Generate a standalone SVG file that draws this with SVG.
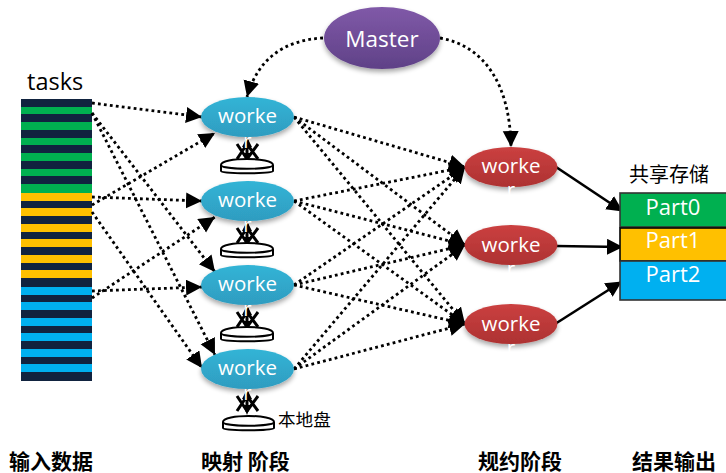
<svg xmlns="http://www.w3.org/2000/svg" width="726" height="473" viewBox="0 0 726 473">
<defs>
<linearGradient id="gb" x1="0" y1="0" x2="0" y2="1"><stop offset="0" stop-color="#31b4d6"/><stop offset="1" stop-color="#2f9cc0"/></linearGradient>
<linearGradient id="gr" x1="0" y1="0" x2="0" y2="1"><stop offset="0" stop-color="#cb4040"/><stop offset="1" stop-color="#ad3232"/></linearGradient>
<linearGradient id="gp" x1="0" y1="0" x2="0" y2="1"><stop offset="0" stop-color="#8059a8"/><stop offset="1" stop-color="#5f4187"/></linearGradient>
<filter id="sh" x="-20%" y="-20%" width="140%" height="160%"><feGaussianBlur in="SourceAlpha" stdDeviation="2.5"/><feOffset dy="3"/><feComponentTransfer><feFuncA type="linear" slope="0.35"/></feComponentTransfer><feMerge><feMergeNode/><feMergeNode in="SourceGraphic"/></feMerge></filter>
<marker id="tri" markerUnits="userSpaceOnUse" markerWidth="18" markerHeight="18" refX="16" refY="8" orient="auto"><path d="M0 0L16 8L0 16Z" fill="#000"/></marker>
<marker id="tris" markerUnits="userSpaceOnUse" markerWidth="18" markerHeight="18" refX="15" refY="8" orient="auto"><path d="M0 0L16 8L0 16Z" fill="#000"/></marker>
<g id="xarrow"><path d="M237 144L247 159M247 144L237 159M247 144L258 159M258 144L247 159M247 140V160" fill="none" stroke="#000" stroke-width="3"/><path d="M247 137L252 147H249.500L247 142L244.500 147H242ZM247 163L251 153H243Z" fill="#000"/></g>
</defs>
<style>
text{font-family:"Open Sans","Noto Sans","Noto Sans CJK SC",sans-serif}
.w{fill:#fff;font-size:20.5px;text-anchor:middle}
.cap{font-family:"Noto Sans CJK SC",sans-serif;font-size:21px;font-weight:700;fill:#000}
.dot{fill:none;stroke:#000;stroke-width:2.8;stroke-dasharray:2.8 3.2;marker-end:url(#tri)}
.sol{fill:none;stroke:#000;stroke-width:2.6;marker-end:url(#tris)}
.disk{fill:#fff;stroke:#000;stroke-width:2}
.n{fill:#11233f}.g{fill:#00b050}.y{fill:#ffc000}.b{fill:#00b0f0}
</style>
<g id="tasks">
<text x="27" y="90" fill="#000" style="font-size:23.500px">tasks</text>
<rect class="n" x="21" y="99" width="71" height="282"/>
<rect class="g" x="21" y="107" width="71" height="7"/><rect class="g" x="21" y="122" width="71" height="8"/><rect class="g" x="21" y="138" width="71" height="7"/><rect class="g" x="21" y="153" width="71" height="8"/><rect class="g" x="21" y="169" width="71" height="7"/><rect class="g" x="21" y="184" width="71" height="9"/>
<rect class="y" x="21" y="193" width="71" height="8"/><rect class="y" x="21" y="208" width="71" height="8"/><rect class="y" x="21" y="224" width="71" height="8"/><rect class="y" x="21" y="239" width="71" height="8"/><rect class="y" x="21" y="255" width="71" height="8"/><rect class="y" x="21" y="270" width="71" height="8"/>
<rect class="b" x="21" y="287" width="71" height="8"/><rect class="b" x="21" y="302" width="71" height="8"/><rect class="b" x="21" y="318" width="71" height="8"/><rect class="b" x="21" y="333" width="71" height="8"/><rect class="b" x="21" y="349" width="71" height="8"/><rect class="b" x="21" y="364" width="71" height="8"/>
</g>
<g id="connectors">
<path class="dot" d="M323 38C285 40 258 58 247 97"/>
<path class="dot" d="M440 38C485 46 510 85 511 147"/>
<path class="dot" d="M92 103L202 117"/>
<path class="dot" d="M92 113L215 272"/>
<path class="dot" d="M92 113L215 355"/>
<path class="dot" d="M92 197L202 201"/>
<path class="dot" d="M92 205L215 133"/>
<path class="dot" d="M92 212L202 368"/>
<path class="dot" d="M92 291L202 287"/>
<path class="dot" d="M92 298L215 217"/>
<path class="dot" d="M294 117L465 167"/><path class="dot" d="M294 117L465 245"/><path class="dot" d="M294 117L465 324"/>
<path class="dot" d="M294 201L465 167"/><path class="dot" d="M294 201L465 245"/><path class="dot" d="M294 201L465 324"/>
<path class="dot" d="M294 285L465 167"/><path class="dot" d="M294 285L465 245"/><path class="dot" d="M294 285L465 324"/>
<path class="dot" d="M294 369L465 167"/><path class="dot" d="M294 369L465 245"/><path class="dot" d="M294 369L465 324"/>
<path class="sol" d="M556 167L622 211"/>
<path class="sol" d="M556 246L622 247"/>
<path class="sol" d="M555 324L621 282"/>
</g>
<g id="m"><ellipse cx="382" cy="38" rx="58" ry="31" fill="url(#gp)" filter="url(#sh)"/><text class="w" x="382" y="47" style="font-size:22.500px">Master</text></g>
<g id="w1"><use href="#xarrow"/><path class="disk" d="M221 165c0-8 52-8 52 0v6c0 3-52 3-52 0Z"/><path class="disk" d="M221 165c0 5 52 5 52 0"/><ellipse cx="247.500" cy="117" rx="46.500" ry="20" fill="url(#gb)" filter="url(#sh)"/><text class="w" x="247.500" y="123">worke</text><text class="w" x="247.500" y="148">r</text></g>
<g id="w2"><use href="#xarrow" y="84"/><path class="disk" d="M221 249c0-8 52-8 52 0v6c0 3-52 3-52 0Z"/><path class="disk" d="M221 249c0 5 52 5 52 0"/><ellipse cx="247.500" cy="201" rx="46.500" ry="20" fill="url(#gb)" filter="url(#sh)"/><text class="w" x="247.500" y="207">worke</text><text class="w" x="247.500" y="232">r</text></g>
<g id="w3"><use href="#xarrow" y="168"/><path class="disk" d="M221 333c0-8 52-8 52 0v6c0 3-52 3-52 0Z"/><path class="disk" d="M221 333c0 5 52 5 52 0"/><ellipse cx="247.500" cy="285" rx="46.500" ry="20" fill="url(#gb)" filter="url(#sh)"/><text class="w" x="247.500" y="291">worke</text><text class="w" x="247.500" y="316">r</text></g>
<g id="w4"><use href="#xarrow" y="252"/><path class="disk" d="M223 422c0-8 51-8 51 0v6c0 3-51 3-51 0Z"/><path class="disk" d="M223 422c0 5 51 5 51 0"/><ellipse cx="247.500" cy="369" rx="46.500" ry="20" fill="url(#gb)" filter="url(#sh)"/><text class="w" x="247.500" y="375">worke</text><text class="w" x="247.500" y="400">r</text></g>
<text x="278" y="426" style="font-family:'Noto Sans CJK SC',sans-serif;font-size:17.600px" fill="#000">本地盘</text>
<g id="r1"><ellipse cx="511" cy="167" rx="46.500" ry="20" fill="url(#gr)" filter="url(#sh)"/><text class="w" x="511" y="173">worke</text><text class="w" x="511" y="197">r</text></g>
<g id="r2"><ellipse cx="511" cy="245" rx="46.500" ry="20" fill="url(#gr)" filter="url(#sh)"/><text class="w" x="511" y="252">worke</text><text class="w" x="511" y="276">r</text></g>
<g id="r3"><ellipse cx="511" cy="324" rx="46.500" ry="20" fill="url(#gr)" filter="url(#sh)"/><text class="w" x="511" y="331">worke</text><text class="w" x="511" y="355">r</text></g>
<g id="store">
<text x="629" y="182" style="font-family:'Noto Sans CJK SC',sans-serif;font-size:20px" fill="#000">共享存储</text>
<rect x="620" y="193" width="108" height="34" fill="#00b050" stroke="#333" stroke-width="1.6"/>
<rect x="620" y="228" width="108" height="33" fill="#ffc000" stroke="#000" stroke-width="1.6"/>
<rect x="620" y="261" width="108" height="39" fill="#00b0f0" stroke="#333" stroke-width="1.6"/>
<text class="w" x="673" y="215" style="font-size:22px">Part0</text><text class="w" x="673" y="248" style="font-size:22px">Part1</text><text class="w" x="673" y="282" style="font-size:22px">Part2</text>
</g>
<g id="captions">
<text class="cap" x="9" y="469">输入数据</text><text class="cap" x="201" y="469">映射 阶段</text><text class="cap" x="478" y="469">规约阶段</text><text class="cap" x="632" y="469">结果输出</text>
</g>
</svg>
